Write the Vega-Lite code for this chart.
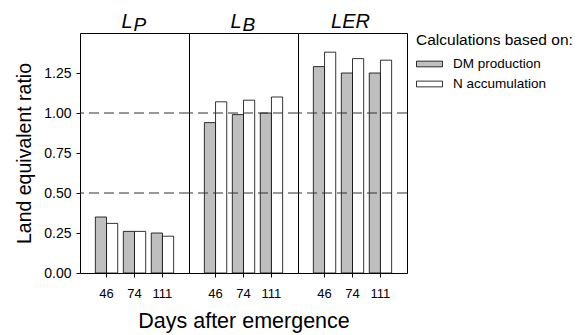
{
  "$schema": "https://vega.github.io/schema/vega-lite/v6.json",
  "padding": {"left": 14, "top": 11, "right": 5, "bottom": 5},
  "background": "white",
  "bounds": "flush",
  "data": {"values": [
    {"panel": "LP", "day": 46, "series": "DM production", "value": 0.35},
    {"panel": "LP", "day": 46, "series": "N accumulation", "value": 0.31},
    {"panel": "LP", "day": 74, "series": "DM production", "value": 0.26},
    {"panel": "LP", "day": 74, "series": "N accumulation", "value": 0.26},
    {"panel": "LP", "day": 111, "series": "DM production", "value": 0.25},
    {"panel": "LP", "day": 111, "series": "N accumulation", "value": 0.23},
    {"panel": "LB", "day": 46, "series": "DM production", "value": 0.94},
    {"panel": "LB", "day": 46, "series": "N accumulation", "value": 1.07},
    {"panel": "LB", "day": 74, "series": "DM production", "value": 0.99},
    {"panel": "LB", "day": 74, "series": "N accumulation", "value": 1.08},
    {"panel": "LB", "day": 111, "series": "DM production", "value": 1.0},
    {"panel": "LB", "day": 111, "series": "N accumulation", "value": 1.1},
    {"panel": "LER", "day": 46, "series": "DM production", "value": 1.29},
    {"panel": "LER", "day": 46, "series": "N accumulation", "value": 1.38},
    {"panel": "LER", "day": 74, "series": "DM production", "value": 1.25},
    {"panel": "LER", "day": 74, "series": "N accumulation", "value": 1.34},
    {"panel": "LER", "day": 111, "series": "DM production", "value": 1.25},
    {"panel": "LER", "day": 111, "series": "N accumulation", "value": 1.33}
  ]},
  "facet": {
    "column": {
      "field": "panel", "type": "nominal", "sort": ["LP", "LB", "LER"],
      "header": {"title": "Days after emergence", "titleOrient": "bottom", "labels": false, "titleFontSize": 21.5, "titleFontWeight": "normal", "titlePadding": 1, "titleColor": "black", "titleFont": "Liberation Sans"}
    }
  },
  "spacing": {"column": 0},
  "spec": {
    "width": 109,
    "height": 240,
    "layer": [
      {
        "mark": {"type": "bar", "stroke": "black", "strokeWidth": 0.8},
        "encoding": {
          "x": {"field": "day", "type": "ordinal", "sort": [46, 74, 111], "scale": {"paddingInner": 0.2, "paddingOuter": 0.55},
                "axis": {"title": null, "labelAngle": 0, "domain": false, "tickSize": 4, "labelFontSize": 13, "labelPadding": 10, "tickColor": "black", "labelColor": "black"}},
          "xOffset": {"field": "series", "type": "nominal", "scale": {"paddingInner": 0, "paddingOuter": 0}},
          "y": {"field": "value", "type": "quantitative", "scale": {"domain": [0, 1.5], "nice": false},
                "axis": {"title": "Land equivalent ratio", "values": [0, 0.25, 0.5, 0.75, 1, 1.25], "format": ".2f", "grid": false, "domain": false, "tickSize": 4, "tickColor": "black", "labelColor": "black", "labelFontSize": 14, "labelPadding": 5, "titleFontSize": 19.5, "titleFontWeight": "normal", "titleColor": "black", "titlePadding": 9}},
          "fill": {"field": "series", "type": "nominal", "scale": {"range": ["#bfbfbf", "white"]},
                   "legend": {"title": "Calculations based on:", "orient": "right", "offset": 8, "titleFontSize": 15.5, "titleFontWeight": "normal", "titleColor": "black", "labelFontSize": 13.5, "labelColor": "black", "symbolType": "M-1,-0.22H1V0.22H-1Z", "symbolSize": 676, "symbolStrokeColor": "black", "symbolStrokeWidth": 0.8, "labelOffset": 10, "rowPadding": -3, "titlePadding": 2}}
        }
      },
      {
        "transform": [{"filter": "datum.day == 46 && datum.series == 'DM production'"}],
        "mark": {"type": "rule", "strokeDash": [10, 5], "color": "#333", "strokeWidth": 1},
        "encoding": {"y": {"datum": 0.5}}
      },
      {
        "transform": [{"filter": "datum.day == 46 && datum.series == 'DM production'"}],
        "mark": {"type": "rule", "strokeDash": [10, 5], "color": "#333", "strokeWidth": 1},
        "encoding": {"y": {"datum": 1.0}}
      },
      {
        "transform": [{"filter": "datum.day == 74 && datum.series == 'DM production' && datum.panel != 'LER'"}],
        "mark": {"type": "text", "align": "right", "baseline": "alphabetic", "dx": -2, "dy": -5, "fontSize": 20, "fontStyle": "italic", "color": "black"},
        "encoding": {"x": {"field": "day", "type": "ordinal", "sort": [46, 74, 111]}, "y": {"datum": 1.5}, "text": {"value": "L"}}
      },
      {
        "transform": [{"filter": "datum.day == 74 && datum.series == 'DM production' && datum.panel != 'LER'"}, {"calculate": "substring(datum.panel, 1)", "as": "sub"}],
        "mark": {"type": "text", "align": "left", "baseline": "alphabetic", "dx": -1, "dy": -2, "fontSize": 19, "fontStyle": "italic", "color": "black"},
        "encoding": {"x": {"field": "day", "type": "ordinal", "sort": [46, 74, 111]}, "y": {"datum": 1.5}, "text": {"field": "sub"}}
      },
      {
        "transform": [{"filter": "datum.day == 74 && datum.series == 'DM production' && datum.panel == 'LER'"}],
        "mark": {"type": "text", "align": "center", "baseline": "alphabetic", "dx": -2, "dy": -5, "fontSize": 20, "fontStyle": "italic", "color": "black"},
        "encoding": {"x": {"field": "day", "type": "ordinal", "sort": [46, 74, 111]}, "y": {"datum": 1.5}, "text": {"value": "LER"}}
      }
    ]
  },
  "config": {
    "font": "Liberation Sans",
    "view": {"stroke": "black", "strokeWidth": 1}
  }
}
